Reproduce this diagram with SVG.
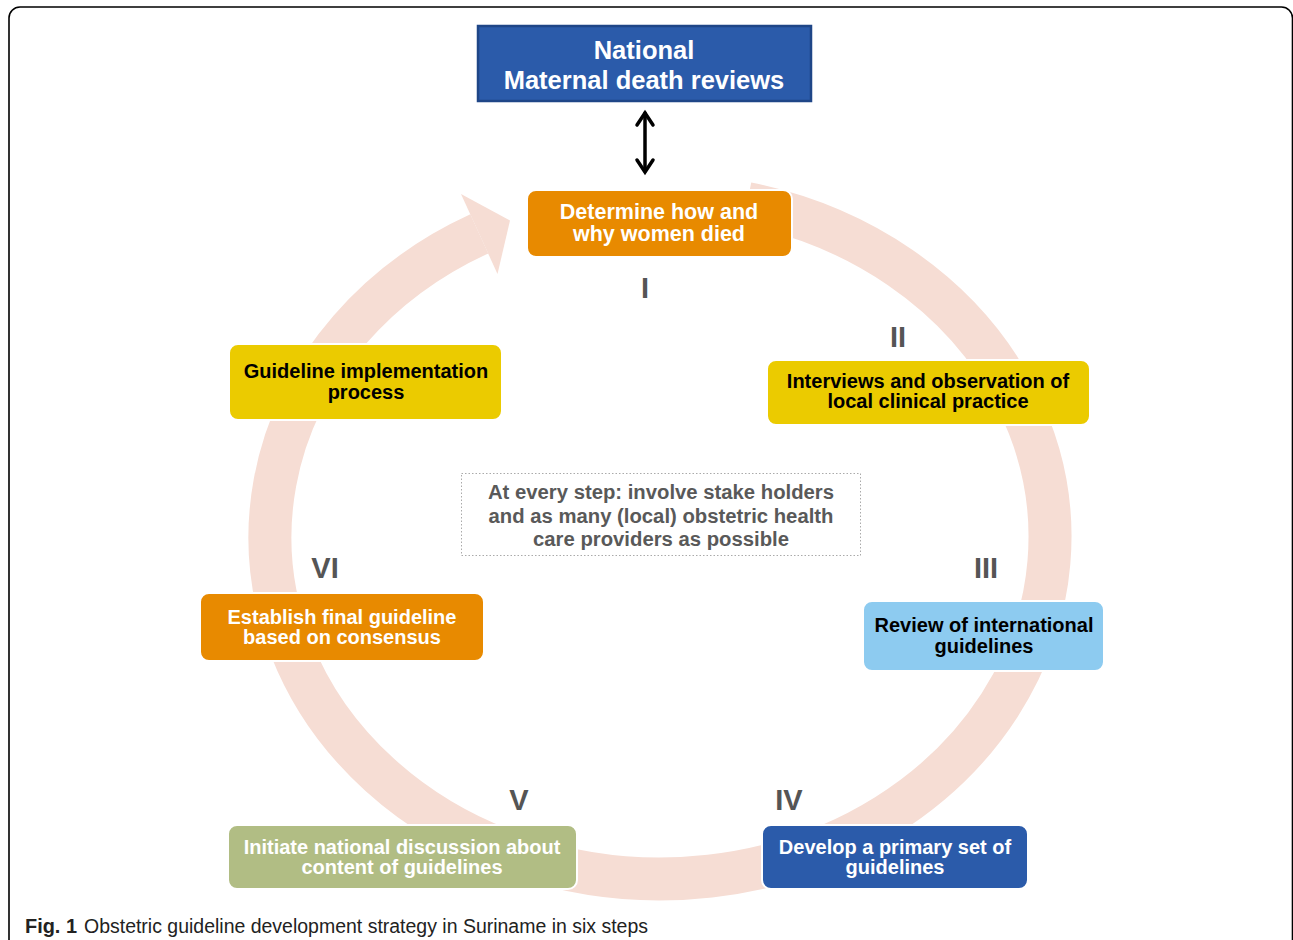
<svg xmlns="http://www.w3.org/2000/svg" width="1293" height="940" viewBox="0 0 1293 940">
<style>
.box{stroke:#ffffff;stroke-width:2}
.t{font-family:"Liberation Sans",Arial,sans-serif;font-weight:bold;text-anchor:middle}
.w{fill:#ffffff}
.k{fill:#000000}
.num{font-family:"Liberation Sans",Arial,sans-serif;font-weight:bold;text-anchor:middle;fill:#555555;font-size:29px}
.ring{fill:none;stroke:#F6DDD4;stroke-width:43}
</style>
<rect x="0" y="0" width="1293" height="940" fill="#ffffff"/>
<rect x="9" y="7" width="1283.5" height="980" rx="11" fill="none" stroke="#000000" stroke-width="1.6"/>
<g id="connectors">
  <path class="ring" d="M 747 203.6 A 390 342 0 1 1 479.3 233.9"/>
  <polygon points="510,220.5 461,194 497.5,274" fill="#F6DDD4"/>
  <g stroke="#000000" stroke-width="3.5" fill="none" stroke-linecap="round" stroke-linejoin="miter">
    <line x1="645" y1="113" x2="645" y2="171"/>
    <polyline points="637,125 645,113 653,125"/>
    <polyline points="637,160 645,172 653,160"/>
  </g>
</g>
<g id="national">
  <rect x="478" y="26" width="333" height="75" fill="#2B5BAA" stroke="#1F4687" stroke-width="2.5"/>
  <text class="t w" font-size="25.5" x="644" y="59">National</text>
  <text class="t w" font-size="25.5" x="644" y="89">Maternal death reviews</text>
</g>
<g id="step1">
  <rect class="box" x="527" y="190" width="265" height="67" rx="9" fill="#E88A00"/>
  <text class="t w" font-size="21.5" x="659" y="218.5">Determine how and</text>
  <text class="t w" font-size="21.5" x="659" y="241">why women died</text>
  <text class="num" x="645" y="298">I</text>
</g>
<g id="step2">
  <text class="num" x="898" y="347">II</text>
  <rect class="box" x="767" y="360" width="323" height="65" rx="9" fill="#EBCB00"/>
  <text class="t k" font-size="20" x="928" y="388">Interviews and observation of</text>
  <text class="t k" font-size="20" x="928" y="408">local clinical practice</text>
</g>
<g id="step3">
  <text class="num" x="986" y="578">III</text>
  <rect class="box" x="863" y="601" width="241" height="70" rx="9" fill="#8DCBF0"/>
  <text class="t k" font-size="20" x="984" y="632">Review of international</text>
  <text class="t k" font-size="20" x="984" y="653">guidelines</text>
</g>
<g id="step4">
  <text class="num" x="789" y="810">IV</text>
  <rect class="box" x="762" y="825" width="266" height="64" rx="9" fill="#2B5BAA"/>
  <text class="t w" font-size="20" x="895" y="854">Develop a primary set of</text>
  <text class="t w" font-size="20" x="895" y="874">guidelines</text>
</g>
<g id="step5">
  <text class="num" x="519" y="810">V</text>
  <rect class="box" x="228" y="825" width="349" height="64" rx="9" fill="#B1BD84"/>
  <text class="t w" font-size="20" x="402" y="854">Initiate national discussion about</text>
  <text class="t w" font-size="20" x="402" y="874">content of guidelines</text>
</g>
<g id="step6">
  <text class="num" x="325" y="578">VI</text>
  <rect class="box" x="200" y="593" width="284" height="68" rx="9" fill="#E88A00"/>
  <text class="t w" font-size="20" x="342" y="624">Establish final guideline</text>
  <text class="t w" font-size="20" x="342" y="644">based on consensus</text>
</g>
<g id="implementation">
  <rect class="box" x="229" y="344" width="273" height="76" rx="9" fill="#EBCB00"/>
  <text class="t k" font-size="20" x="366" y="378">Guideline implementation</text>
  <text class="t k" font-size="20" x="366" y="399">process</text>
</g>
<g id="center-note">
  <rect x="461.5" y="473.5" width="399" height="82" fill="none" stroke="#AAAAAA" stroke-width="1" stroke-dasharray="1.5 2"/>
  <text class="t" fill="#595959" font-size="20.3" x="661" y="499">At every step: involve stake holders</text>
  <text class="t" fill="#595959" font-size="20.3" x="661" y="523">and as many (local) obstetric health</text>
  <text class="t" fill="#595959" font-size="20.3" x="661" y="546">care providers as possible</text>
</g>
<g id="caption">
  <text x="25" y="933" font-family="'Liberation Sans',Arial,sans-serif" font-size="20" font-weight="bold" fill="#222222" textLength="52" lengthAdjust="spacingAndGlyphs">Fig. 1</text>
  <text x="84" y="933" font-family="'Liberation Sans',Arial,sans-serif" font-size="20" fill="#222222" textLength="564" lengthAdjust="spacingAndGlyphs">Obstetric guideline development strategy in Suriname in six steps</text>
</g>
</svg>
